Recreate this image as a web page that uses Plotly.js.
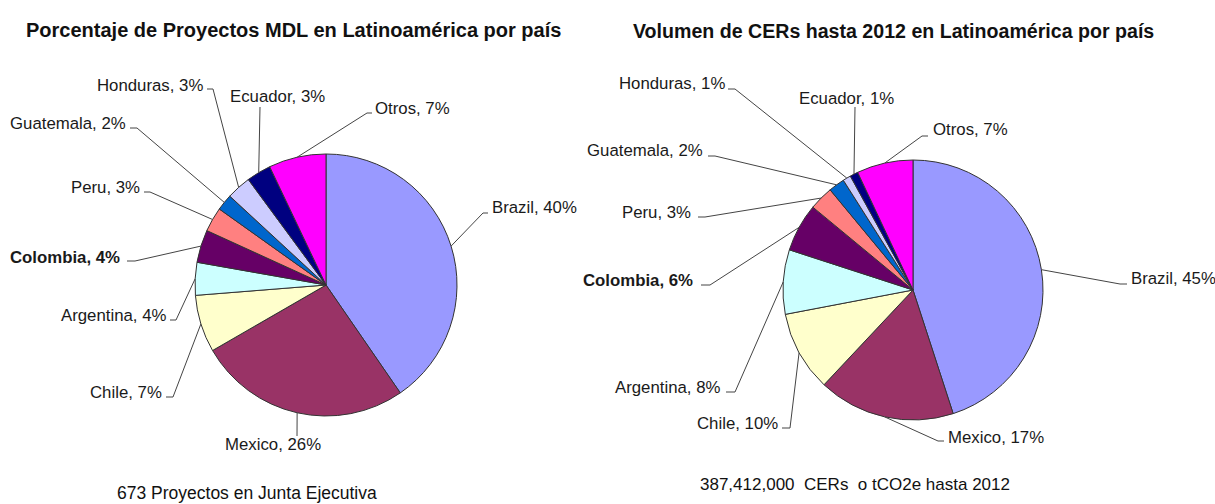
<!DOCTYPE html>
<html><head><meta charset="utf-8">
<script src="https://cdn.plot.ly/plotly-3.0.1.min.js"></script>
<style>html,body{margin:0;padding:0;background:#fff}</style>
</head><body>
<div id="chart" style="width:1215px;height:504px"></div>
<script>
// ---- data ----
const countries = ['Brazil','Mexico','Chile','Argentina','Colombia','Peru','Guatemala','Honduras','Ecuador','Otros'];
const proyectosPct = [40,26,7,4,4,3,2,3,3,7];
const cersPct = [45,17,10,8,6,3,2,1,1,7];
const sliceColors = ['#9999FF','#993366','#FFFFCC','#CCFFFF','#660066','#FF8080','#0066CC','#CCCCFF','#000080','#FF00FF'];
const highlightCountry = 'Colombia';
const titleLeft = 'Porcentaje de Proyectos MDL en Latinoamérica por país';
const titleRight = 'Volumen de CERs hasta 2012 en Latinoamérica por país';
const noteLeft = '673 Proyectos en Junta Ejecutiva';
const noteRight = '387,412,000  CERs  o tCO2e hasta 2012';

// ---- layout (pixels) ----
const W = 1215, H = 504;
const pieLeft = {cx:326, cy:285, r:131};
const pieRight = {cx:913, cy:290, r:130};
// [textX, textY, xanchor, elbowX, elbowY, tickX]
const labelPosLeft = [
  [490,207,'left',483,213,488],
  [273,444,'center',297,436,297],
  [164,392,'right',173,397,166],
  [168,315,'right',176,320,170],
  [122,257,'right',135,261,127],
  [142,187,'right',150,192,144],
  [128,123,'right',137,128,130],
  [205,85,'right',213,89,207],
  [228,97,'left',260,107,260],
  [373,108,'left',367,113,372]
];
const labelPosRight = [
  [1129,278,'left',1120,284,1127],
  [946,437,'left',938,441,944],
  [780,423,'right',790,428,782],
  [722,387,'right',735,392,726],
  [695,280,'right',710,285,701],
  [693,212,'right',705,217,698],
  [705,150,'right',715,156,708],
  [727,84,'right',735,89,728],
  [797,99,'left',855,107,855],
  [931,129,'left',922,136,928]
];

const px = x => x / W;
const py = y => 1 - y / H;
const labelFont = {family:'Liberation Sans, Arial, sans-serif', size:16.8, color:'#1a1a1a'};
const lineStyle = {color:'#444', width:1};

function pieTrace(values, pie){
  return {
    type:'pie', labels:countries, values:values, sort:false, direction:'clockwise', rotation:0,
    marker:{colors:sliceColors, line:{color:'#333', width:1}},
    textinfo:'none', hoverinfo:'label+percent', showlegend:false,
    domain:{x:[px(pie.cx-pie.r), px(pie.cx+pie.r)], y:[py(pie.cy+pie.r), py(pie.cy-pie.r)]}
  };
}

const annotations = [];
const shapes = [];
function addLabels(values, pie, pos){
  const total = values.reduce((a,b)=>a+b,0);
  let cum = 0;
  values.forEach((v,i)=>{
    const mid = (cum + v/2) / total * 2 * Math.PI;
    cum += v;
    const ex = pie.cx + pie.r * Math.sin(mid);
    const ey = pie.cy - pie.r * Math.cos(mid);
    const p = pos[i];
    const name = countries[i];
    const txt = name + ', ' + v + '%';
    annotations.push({
      xref:'paper', yref:'paper', x:px(p[0]), y:py(p[1]), xanchor:p[2], yanchor:'middle',
      showarrow:false, text: name === highlightCountry ? '<b>'+txt+'</b>' : txt, font:labelFont
    });
    shapes.push({type:'line', xref:'paper', yref:'paper', x0:px(ex), y0:py(ey), x1:px(p[3]), y1:py(p[4]), line:lineStyle});
    if (p[5] !== p[3]) {
      shapes.push({type:'line', xref:'paper', yref:'paper', x0:px(p[3]), y0:py(p[4]), x1:px(p[5]), y1:py(p[4]), line:lineStyle});
    }
  });
}
addLabels(proyectosPct, pieLeft, labelPosLeft);
addLabels(cersPct, pieRight, labelPosRight);

const titleFont = {family:'Liberation Sans, Arial, sans-serif', size:20, color:'#111'};
annotations.push({xref:'paper', yref:'paper', x:px(293), y:py(30), xanchor:'center', yanchor:'middle', showarrow:false, text:'<b>'+titleLeft+'</b>', font:titleFont});
annotations.push({xref:'paper', yref:'paper', x:px(893), y:py(31), xanchor:'center', yanchor:'middle', showarrow:false, text:'<b>'+titleRight+'</b>', font:Object.assign({}, titleFont, {size:19.6})});
const noteFont = {family:'Liberation Sans, Arial, sans-serif', size:17.5, color:'#111'};
annotations.push({xref:'paper', yref:'paper', x:px(247), y:py(493), xanchor:'center', yanchor:'middle', showarrow:false, text:noteLeft, font:noteFont});
annotations.push({xref:'paper', yref:'paper', x:px(855), y:py(484), xanchor:'center', yanchor:'middle', showarrow:false, text:noteRight.replace(/  /g,'&nbsp; '), font:Object.assign({}, noteFont, {size:17})});

Plotly.newPlot('chart', [pieTrace(proyectosPct, pieLeft), pieTrace(cersPct, pieRight)], {
  width:W, height:H, margin:{l:0,r:0,t:0,b:0},
  paper_bgcolor:'#fff', plot_bgcolor:'#fff',
  annotations:annotations, shapes:shapes
}, {displayModeBar:false, staticPlot:true});
</script>
</body></html>
